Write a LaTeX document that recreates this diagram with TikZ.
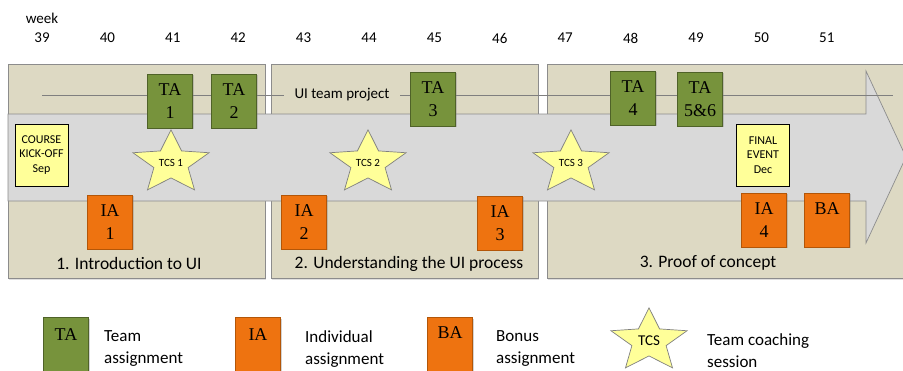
\documentclass[tikz,border=0pt]{standalone}
\usepackage{fontspec}
\setmainfont{Carlito}
\newfontfamily\boxfont{Liberation Serif}
\usetikzlibrary{shadows}

\definecolor{phasetan}{HTML}{DDD9C3}
\definecolor{phaseedge}{HTML}{8C8C8C}
\definecolor{arrowgray}{HTML}{D9D9D9}
\definecolor{arrowedge}{HTML}{8C8C8C}
\definecolor{tagreen}{HTML}{77933C}
\definecolor{tagreenedge}{HTML}{4F6228}
\definecolor{iaorange}{HTML}{EE7310}
\definecolor{iaorangeedge}{HTML}{B35608}
\definecolor{noteyellow}{HTML}{FFFF99}
\definecolor{staredge}{HTML}{7F7F7F}
\definecolor{projline}{HTML}{7F7F7F}

% five-pointed coaching star, slightly flattened
\newcommand{\coachstar}[5]{%
  \begin{scope}[shift={(#2,#3)}, yscale=0.83]
    \draw[starshape] (-90:40) -- (-54:18) -- (-18:40) -- (18:18) -- (54:40)
      -- (90:18) -- (126:40) -- (162:18) -- (198:40) -- (234:18) -- cycle;
  \end{scope}
  \node[#5] (#1) at (#2,#3) {#4};}

\begin{document}
\begin{tikzpicture}[x=1pt, y=-1pt,
  phase/.style={fill=phasetan, draw=phaseedge, line width=0.8pt,
    drop shadow={opacity=0.25, shadow xshift=0.8pt, shadow yshift=-1.5pt}},
  arrowbody/.style={fill=arrowgray, draw=arrowedge, line width=0.7pt},
  weeklabel/.style={font=\fontsize{15}{18}\selectfont, inner sep=0pt},
  phaselabel/.style={font=\fontsize{17.5}{21}\selectfont, inner sep=0pt},
  assign/.style={minimum width=45pt, minimum height=54pt, inner sep=0pt,
    align=center, line width=0.8pt,
    font=\boxfont\fontsize{18}{23.5}\selectfont,
    drop shadow={opacity=0.35, shadow xshift=1pt, shadow yshift=-1.2pt}},
  ta/.style={assign, fill=tagreen, draw=tagreenedge},
  ia/.style={assign, fill=iaorange, draw=iaorangeedge},
  note/.style={fill=noteyellow, draw=black, line width=0.9pt,
    minimum width=53pt, minimum height=62pt, inner sep=0pt, align=center,
    font=\fontsize{12}{14.5}\selectfont},
  starshape/.style={fill=noteyellow, draw=staredge, line width=0.7pt, line join=miter},
  startext/.style={font=\fontsize{11}{13}\selectfont, inner sep=0pt},
  legstartext/.style={font=\fontsize{15}{18}\selectfont, inner sep=0pt},
  legtext/.style={font=\fontsize{17}{22}\selectfont, inner sep=0pt, align=left, anchor=north west},
  boxlabel/.style={font=\boxfont\fontsize{18}{22}\selectfont, inner sep=0pt}]

\useasboundingbox (0,0) rectangle (903,370);

% week scale
\node[weeklabel] (week) at (42,18) {week};
\foreach \w [count=\i from 0] in {39,...,51}
  \node[weeklabel] (w\w) at ({42+\i*65.4},38) {\w};

% phase panels
\draw[phase] (8,64) rectangle (265,278);
\draw[phase] (271,64) rectangle (538,278);
\draw[phase] (547,64) rectangle (915,278);

% timeline arrow
\draw[arrowbody] (8,114) -- (866,114) -- (866,71) -- (906,157)
  -- (866,243) -- (866,201) -- (8,201) -- cycle;

% team project line
\coordinate (projstart) at (42,95);
\coordinate (projend) at (893,95);
\draw[projline, line width=0.8pt] (projstart) -- (projend);
\node[fill=phasetan, inner xsep=11pt, inner ysep=2pt,
  font=\fontsize{15}{18}\selectfont] (projlabel) at (342,95) {UI team project};

% phase titles
\node[phaselabel] (ph1) at (129,263) {1. Introduction to UI};
\node[phaselabel] (ph2) at (409,264) {2. Understanding the UI process};
\node[phaselabel] (ph3) at (708,263) {3. Proof of concept};

% kick-off and final event
\node[note] (kickoff) at (41.5,155) {COURSE\\KICK-OFF\\Sep};
\node[note] (final) at (763,155) {FINAL\\EVENT\\Dec};

% team assignments
\node[ta] (ta1) at (170,101) {TA\\1};
\node[ta] (ta2) at (234,101) {TA\\2};
\node[ta] (ta3) at (433,99) {TA\\3};
\node[ta] (ta4) at (633,98) {TA\\4};
\node[ta] (ta56) at (700,99) {TA\\5\&6};

% individual and bonus assignments
\node[ia] (ia1) at (110,222) {IA\\1};
\node[ia] (ia2) at (304,222) {IA\\2};
\node[ia] (ia3) at (500,223) {IA\\3};
\node[ia] (ia4) at (764,220) {IA\\4};
\node[ia] (ba) at (827,220) {BA\\\phantom{4}};

% coaching sessions
\coachstar{tcs1}{171}{163}{TCS 1}{startext}
\coachstar{tcs2}{368}{163}{TCS 2}{startext}
\coachstar{tcs3}{571}{163}{TCS 3}{startext}

% legend
\node[ta, minimum height=60pt, anchor=north] (legta) at (66,317) {};
\node[boxlabel] (legtalabel) at (66,335) {TA};
\node[legtext] (legtatext) at (104,330) {Team\\assignment};

\node[ia, minimum height=60pt, anchor=north] (legia) at (258,317) {};
\node[boxlabel] (legialabel) at (258,335) {IA};
\node[legtext] (legiatext) at (305,330) {Individual\\assignment};

\node[ia, minimum height=60pt, anchor=north] (legba) at (450,317) {};
\node[boxlabel] (legbalabel) at (450,333) {BA};
\node[legtext] (legbatext) at (496,330) {Bonus\\assignment};

\coachstar{legtcs}{649}{341}{TCS}{legstartext}
\node[legtext] (legtcstext) at (707,333) {Team coaching\\session};

\end{tikzpicture}
\end{document}
